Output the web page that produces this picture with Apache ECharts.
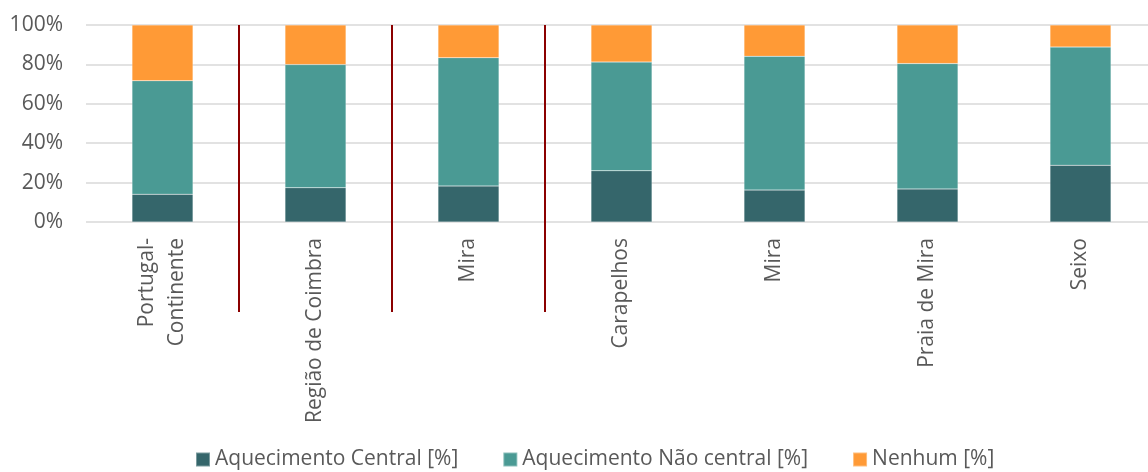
<!DOCTYPE html>
<html>
<head>
<meta charset="utf-8">
<script src="https://cdn.jsdelivr.net/npm/echarts@6/dist/echarts.min.js"></script>
<style>
  html, body { margin: 0; padding: 0; background: #fff; overflow: hidden; }
  #chart { width: 1160px; height: 472px; }
</style>
</head>
<body>
<div id="chart"></div>
<script>
const categories = ['Portugal-\nContinente', 'Região de Coimbra', 'Mira', 'Carapelhos', 'Mira', 'Praia de Mira', 'Seixo'];
const seriesNames = ['Aquecimento Central [%]', 'Aquecimento Não central [%]', 'Nenhum [%]'];
const central = [14.1, 17.4, 18.3, 26.0, 16.2, 16.8, 28.8];
const naoCentral = [57.6, 62.5, 65.1, 55.2, 67.9, 63.6, 60.0];
const nenhum = [28.3, 20.1, 16.6, 18.8, 15.9, 19.6, 11.2];
const separatorAfter = [1, 2, 3];
const yTicks = [0, 20, 40, 60, 80, 100];

const colors = ['#35666b', '#4a9a94', '#ff9a36'];
const textColor = '#595959';
const fontFamily = '"Open Sans", sans-serif';

const chart = echarts.init(document.getElementById('chart'));
chart.setOption({
  animation: false,
  textStyle: { fontFamily: fontFamily },
  grid: [
    { left: 86, top: 25, width: 1071, height: 197 },
    { left: 86, top: 25, width: 1071, height: 287 }
  ],
  legend: {
    top: 444,
    left: 190,
    itemWidth: 14,
    itemHeight: 14,
    itemGap: 44,
    icon: 'rect',
    data: seriesNames,
    textStyle: { color: textColor, fontSize: 21, fontFamily: fontFamily }
  },
  xAxis: [
    {
      type: 'category',
      gridIndex: 0,
      data: categories,
      boundaryGap: true,
      axisLine: { show: false },
      axisTick: { show: false },
      axisLabel: {
        rotate: 90,
        interval: 0,
        margin: 16,
        color: textColor,
        fontSize: 21,
        lineHeight: 30,
        fontFamily: fontFamily
      }
    },
    {
      type: 'category',
      gridIndex: 1,
      data: categories,
      boundaryGap: true,
      axisLine: { show: false },
      axisTick: { show: false },
      axisLabel: { show: false },
      splitLine: {
        show: true,
        interval: function (index) { return separatorAfter.indexOf(index) >= 0; },
        lineStyle: { color: '#8b0000', width: 2 }
      }
    }
  ],
  yAxis: [
    {
      type: 'value',
      gridIndex: 0,
      min: yTicks[0],
      max: yTicks[yTicks.length - 1],
      interval: 20,
      axisLine: { show: false },
      axisTick: { show: false },
      axisLabel: {
        formatter: '{value}%',
        color: textColor,
        fontSize: 21,
        margin: 23,
        fontFamily: fontFamily
      },
      splitLine: { lineStyle: { color: '#d9d9d9', width: 1.5 } }
    },
    {
      type: 'value',
      gridIndex: 1,
      show: false,
      min: 0,
      max: 1
    }
  ],
  series: [
    { name: seriesNames[0], data: central },
    { name: seriesNames[1], data: naoCentral },
    { name: seriesNames[2], data: nenhum }
  ].map(function (s, i) {
    return {
      name: s.name,
      type: 'bar',
      stack: 'total',
      xAxisIndex: 0,
      yAxisIndex: 0,
      barWidth: 61,
      data: s.data,
      itemStyle: { color: colors[i], borderColor: 'rgba(255,255,255,0.35)', borderWidth: 0.5 }
    };
  })
});
</script>
</body>
</html>
